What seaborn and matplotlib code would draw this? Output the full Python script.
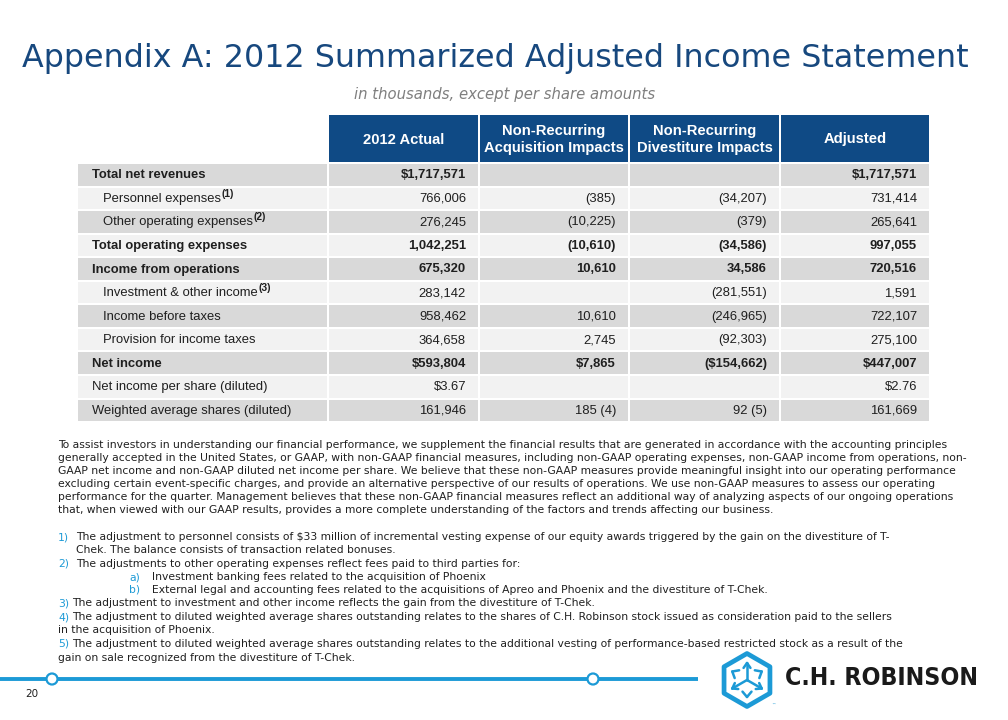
import matplotlib
matplotlib.use("Agg")
import matplotlib.pyplot as plt
import seaborn as sns
import numpy as np
from matplotlib.patches import Polygon, Circle

# ---------------- data ----------------
row_labels = ["Total net revenues", "Personnel expenses", "Other operating expenses",
              "Total operating expenses", "Income from operations",
              "Investment & other income", "Income before taxes",
              "Provision for income taxes", "Net income",
              "Net income per share (diluted)", "Weighted average shares (diluted)"]
label_notes = ["", "(1)", "(2)", "", "", "(3)", "", "", "", "", ""]
row_indent = [0, 1, 1, 0, 0, 1, 1, 1, 0, 0, 0]
row_bold = [1, 0, 0, 1, 1, 0, 0, 0, 1, 0, 0]
row_dollar = [1, 0, 0, 0, 0, 0, 0, 0, 1, 1, 0]

col_headers = ["2012 Actual", "Non-Recurring\nAcquisition Impacts",
               "Non-Recurring\nDivestiture Impacts", "Adjusted"]

actual_2012 = [1717571, 766006, 276245, 1042251, 675320, 283142, 958462, 364658, 593804, 3.67, 161946]
acquisition = [None, -385, -10225, -10610, 10610, None, 10610, 2745, 7865, None, 185]
divestiture = [None, -34207, -379, -34586, 34586, -281551, -246965, -92303, -154662, None, 92]
adjusted = [1717571, 731414, 265641, 997055, 720516, 1591, 722107, 275100, 447007, 2.76, 161669]
acquisition_notes = [""] * 10 + ["(4)"]
divestiture_notes = [""] * 10 + ["(5)"]

title = "Appendix A: 2012 Summarized Adjusted Income Statement"
subtitle = "in thousands, except per share amounts"
paragraph = [
    "To assist investors in understanding our financial performance, we supplement the financial results that are generated in accordance with the accounting principles",
    "generally accepted in the United States, or GAAP, with non-GAAP financial measures, including non-GAAP operating expenses, non-GAAP income from operations, non-",
    "GAAP net income and non-GAAP diluted net income per share. We believe that these non-GAAP measures provide meaningful insight into our operating performance",
    "excluding certain event-specific charges, and provide an alternative perspective of our results of operations. We use non-GAAP measures to assess our operating",
    "performance for the quarter. Management believes that these non-GAAP financial measures reflect an additional way of analyzing aspects of our ongoing operations",
    "that, when viewed with our GAAP results, provides a more complete understanding of the factors and trends affecting our business.",
]
# (marker, text, indent style)
footnotes = [
    ("1)", "The adjustment to personnel consists of $33 million of incremental vesting expense of our equity awards triggered by the gain on the divestiture of T-", "num"),
    ("", "Chek. The balance consists of transaction related bonuses.", "cont"),
    ("2)", "The adjustments to other operating expenses reflect fees paid to third parties for:", "num"),
    ("a)", "Investment banking fees related to the acquisition of Phoenix", "sub"),
    ("b)", "External legal and accounting fees related to the acquisitions of Apreo and Phoenix and the divestiture of T-Chek.", "sub"),
    ("3)", "The adjustment to investment and other income reflects the gain from the divestiture of T-Chek.", "tight"),
    ("4)", "The adjustment to diluted weighted average shares outstanding relates to the shares of C.H. Robinson stock issued as consideration paid to the sellers", "tight"),
    ("", "in the acquisition of Phoenix.", "flush"),
    ("5)", "The adjustment to diluted weighted average shares outstanding relates to the additional vesting of performance-based restricted stock as a result of the", "tight"),
    ("", "gain on sale recognized from the divestiture of T-Chek.", "flush"),
]
page_number = "20"
company = "C.H. ROBINSON"

# ---------------- style ----------------
sns.set_theme(style="white")
plt.rcParams["font.family"] = ["DejaVu Sans"]

NAVY = "#0f4a85"
TITLE_BLUE = "#17487e"
LIGHT_BLUE = "#1c9ad6"
DARK_ROW = "#d9d9d9"
LIGHT_ROW = "#f2f2f2"
TXT = "#1f1f1f"
TABLE_FONT = ["Liberation Sans", "DejaVu Sans"]

fig = plt.figure(figsize=(10.08, 7.2), dpi=100)
ax = fig.add_axes([0, 0, 1, 1])
ax.set_xlim(0, 1008)
ax.set_ylim(720, 0)
ax.axis("off")
renderer = fig.canvas.get_renderer()


def text_width(s, size, **kw):
    t = ax.text(0, 0, s, fontsize=size, **kw)
    w = t.get_window_extent(renderer).width
    t.remove()
    return w


def fit(s, target, **kw):
    return 10.0 * target / text_width(s, 10.0, **kw)


# ---------------- title ----------------
ts = fit(title, 946)
ax.text(495, 58, title, fontsize=ts, color=TITLE_BLUE, ha="center", va="center")
ss = fit(subtitle, 300, style="italic")
ax.text(505, 94, subtitle, fontsize=ss, style="italic", color="#7f7f7f", ha="center", va="center")

# ---------------- table ----------------
col_left = [78, 329, 480, 630, 781]
col_right = [327, 478, 628, 779, 929]
row_top0 = 164.0
pitch = 23.55
cell_h = 21.6
n = len(row_labels)
centers = row_top0 + np.arange(n) * pitch + cell_h / 2
row_colors = [DARK_ROW if i % 2 == 0 else LIGHT_ROW for i in range(n)]

# header cells
hdr_top, hdr_bot = 115, 162
for j in range(4):
    ax.barh((hdr_top + hdr_bot) / 2, col_right[j + 1] - col_left[j + 1], height=hdr_bot - hdr_top,
            left=col_left[j + 1], color=NAVY, edgecolor="none")
    ax.text((col_left[j + 1] + col_right[j + 1]) / 2, (hdr_top + hdr_bot) / 2 + 1, col_headers[j],
            fontsize=10.6, fontweight="bold", color="white", ha="center", va="center",
            family=TABLE_FONT, linespacing=1.35)

# body cells
for c in range(5):
    ax.barh(centers, [col_right[c] - col_left[c]] * n, height=cell_h, left=col_left[c],
            color=row_colors, edgecolor="none")


def fmt(v, dollar, note):
    if v is None:
        return ""
    if isinstance(v, float) and v != int(v):
        body = f"{abs(v):,.2f}"
    else:
        body = f"{abs(v):,.0f}"
    if dollar:
        body = "$" + body
    if v < 0:
        body = "(" + body + ")"
    if note:
        body = body + " " + note
    return body


columns = [actual_2012, acquisition, divestiture, adjusted]
col_notes = [[""] * n, acquisition_notes, divestiture_notes, [""] * n]
FS = 9.4
inv = ax.transData.inverted()
for i in range(n):
    y = centers[i] + 0.5
    w = "bold" if row_bold[i] else "normal"
    x0 = 92 + (11 if row_indent[i] else 0)
    lbl = ax.text(x0, y, row_labels[i], fontsize=FS, fontweight=w, color=TXT,
                  ha="left", va="center", family=TABLE_FONT)
    if label_notes[i]:
        bb = lbl.get_window_extent(renderer)
        xe = inv.transform((bb.x1, 0))[0]
        ax.text(xe + 0.5, y - 5, label_notes[i], fontsize=7.4, fontweight="bold", color=TXT,
                ha="left", va="center", family=TABLE_FONT)
    for c in range(4):
        val = columns[c][i]
        s = fmt(val, row_dollar[i], col_notes[c][i])
        ax.text(col_right[c + 1] - 12, y, s, fontsize=FS, fontweight=w, color=TXT,
                ha="right", va="center", family=TABLE_FONT)

# ---------------- paragraph ----------------
bs = fit(paragraph[1], 907)
para_y = [445, 458, 471, 484, 497, 510]
for s, y in zip(paragraph, para_y):
    ax.text(58, y, s, fontsize=bs, color=TXT, ha="left", va="center")

note_y = [537, 550, 564, 577, 590, 603, 617, 630, 644, 658]
for (mark, s, kind), y in zip(footnotes, note_y):
    if kind == "num":
        ax.text(58, y, mark, fontsize=bs, color=LIGHT_BLUE, ha="left", va="center")
        ax.text(76, y, s, fontsize=bs, color=TXT, ha="left", va="center")
    elif kind == "cont":
        ax.text(76, y, s, fontsize=bs, color=TXT, ha="left", va="center")
    elif kind == "sub":
        ax.text(129, y, mark, fontsize=bs, color=LIGHT_BLUE, ha="left", va="center")
        ax.text(152, y, s, fontsize=bs, color=TXT, ha="left", va="center")
    elif kind == "tight":
        mk = ax.text(58, y, mark, fontsize=bs, color=LIGHT_BLUE, ha="left", va="center")
        xe = inv.transform((mk.get_window_extent(renderer).x1, 0))[0]
        ax.text(xe + 3, y, s, fontsize=bs, color=TXT, ha="left", va="center")
    else:
        ax.text(58, y, s, fontsize=bs, color=TXT, ha="left", va="center")

# ---------------- footer ----------------
ax.plot([0, 698], [679, 679], color=LIGHT_BLUE, lw=2.8, solid_capstyle="butt", zorder=3)
for cx in (52, 593):
    ax.add_patch(Circle((cx, 679), 5.5, facecolor="white", edgecolor=LIGHT_BLUE, lw=1.6, zorder=4))
ax.text(32, 694, page_number, fontsize=7.5, color=TXT, ha="center", va="center")

# logo hexagon
hx, hy, R = 747, 680, 26.5
ang = np.deg2rad([90, 150, 210, 270, 330, 30])
hexpts = np.column_stack([hx + R * np.cos(ang), hy - R * np.sin(ang)])
ax.add_patch(Polygon(hexpts, closed=True, fill=False, edgecolor=LIGHT_BLUE, lw=3.4, joinstyle="round"))
L = 17
for a in (90, 210, 330):
    ar = np.deg2rad(a)
    ex, ey = hx + L * np.cos(ar), hy - L * np.sin(ar)
    ax.plot([hx, ex], [hy, ey], color=LIGHT_BLUE, lw=1.8, solid_capstyle="round")
    for d in (-35, 35):
        br = ar + np.pi + np.deg2rad(d)
        ax.plot([ex, ex + 6 * np.cos(br)], [ey, ey - 6 * np.sin(br)], color=LIGHT_BLUE, lw=1.8,
                solid_capstyle="round")
for a in (150, 30, 270):
    ar = np.deg2rad(a)
    tipx, tipy = hx + 17 * np.cos(ar), hy - 17 * np.sin(ar)
    for d in (-40, 40):
        br = ar + np.pi + np.deg2rad(d)
        ax.plot([tipx, tipx + 7 * np.cos(br)], [tipy, tipy - 7 * np.sin(br)], color=LIGHT_BLUE, lw=1.8,
                solid_capstyle="round")
ax.text(773, 705, "\u2122", fontsize=3, color=LIGHT_BLUE, ha="center", va="center")

cs = fit(company, 192, fontweight="bold", fontstretch="condensed")
ax.text(785, 678, company, fontsize=cs, fontweight="bold", fontstretch="condensed",
        color="#1a1a1a", ha="left", va="center")

fig.savefig("out.png", dpi=100, facecolor="white")
